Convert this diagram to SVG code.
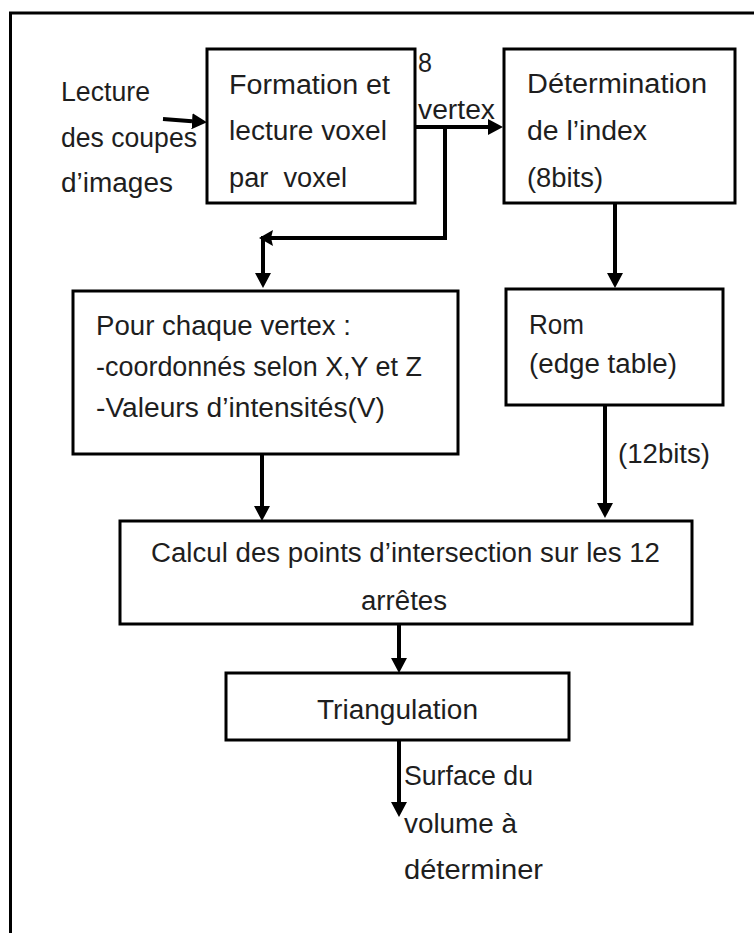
<svg xmlns="http://www.w3.org/2000/svg" width="754" height="933" viewBox="0 0 754 933">
<style>
.box{fill:#fff;stroke:#000;stroke-width:3}
.t{font-family:"Liberation Sans",Arial,sans-serif;font-size:27px;fill:#1e1e1e}
.c{fill:none;stroke:#000;stroke-width:4}
.head{fill:#000}
</style>
<defs>
<marker id="ah" viewBox="0 -8 15 16" markerWidth="15" markerHeight="16" refX="0" refY="0" orient="auto" markerUnits="userSpaceOnUse">
<path d="M0,-8 L15,0 L0,8 z" fill="#000"/>
</marker>
</defs>
<rect x="10.5" y="13" width="800" height="1000" fill="#fff" stroke="#000" stroke-width="3"/>

<g id="input-label">
<text class="t" x="61" y="101" textLength="89" lengthAdjust="spacingAndGlyphs">Lecture</text>
<text class="t" x="61" y="147" textLength="136" lengthAdjust="spacingAndGlyphs">des coupes</text>
<text class="t" x="61" y="192" textLength="112" lengthAdjust="spacingAndGlyphs">d’images</text>
</g>

<g id="formation">
<rect class="box" x="207" y="49" width="208" height="154"/>
<text class="t" x="229" y="94" textLength="161" lengthAdjust="spacingAndGlyphs">Formation et</text>
<text class="t" x="229" y="140" textLength="158" lengthAdjust="spacingAndGlyphs">lecture voxel</text>
<text class="t" x="229" y="187" textLength="118" lengthAdjust="spacingAndGlyphs" style="white-space:pre">par  voxel</text>
</g>

<g id="determination">
<rect class="box" x="504" y="49" width="231" height="154"/>
<text class="t" x="527" y="93" textLength="180" lengthAdjust="spacingAndGlyphs">Détermination</text>
<text class="t" x="527" y="140" textLength="120" lengthAdjust="spacingAndGlyphs">de l’index</text>
<text class="t" x="527" y="187" textLength="76" lengthAdjust="spacingAndGlyphs">(8bits)</text>
</g>

<g id="vertex">
<rect class="box" x="73" y="291" width="385" height="163"/>
<text class="t" x="96" y="335" textLength="255" lengthAdjust="spacingAndGlyphs">Pour chaque vertex :</text>
<text class="t" x="96" y="376" textLength="326" lengthAdjust="spacingAndGlyphs">-coordonnés selon X,Y et Z</text>
<text class="t" x="96" y="417" textLength="289" lengthAdjust="spacingAndGlyphs">-Valeurs d’intensités(V)</text>
</g>

<g id="rom">
<rect class="box" x="506" y="289" width="217" height="116"/>
<text class="t" x="529" y="334" textLength="55" lengthAdjust="spacingAndGlyphs">Rom</text>
<text class="t" x="529" y="373" textLength="148" lengthAdjust="spacingAndGlyphs">(edge table)</text>
</g>

<g id="calcul">
<rect class="box" x="120" y="521" width="572" height="103"/>
<text class="t" x="151" y="562" textLength="509" lengthAdjust="spacingAndGlyphs">Calcul des points d’intersection sur les 12</text>
<text class="t" x="361" y="610" textLength="86" lengthAdjust="spacingAndGlyphs">arrêtes</text>
</g>

<g id="triangulation">
<rect class="box" x="226" y="673" width="343" height="67"/>
<text class="t" x="317" y="719" textLength="161" lengthAdjust="spacingAndGlyphs">Triangulation</text>
</g>

<g id="connectors">
<path class="c" d="M163,119 L192,121.2" marker-end="url(#ah)"/>
<path class="c" d="M415,127 L488,127" marker-end="url(#ah)"/>
<path class="c" d="M445,127 L445,238 L263,238 L263,273" stroke-width="5" marker-end="url(#ah)"/>
<polygon class="head" points="259,238 273,230 271,238 273,246"/>
<path class="c" d="M615,203 L615,273" marker-end="url(#ah)"/>
<path class="c" d="M262,454 L262,506" marker-end="url(#ah)"/>
<path class="c" d="M605,405 L605,503" marker-end="url(#ah)"/>
<path class="c" d="M399,624 L399,658" marker-end="url(#ah)"/>
<path class="c" d="M399,740 L399,802" marker-end="url(#ah)"/>
</g>

<g id="labels">
<text class="t" x="418" y="72" textLength="14" lengthAdjust="spacingAndGlyphs">8</text>
<text class="t" x="418" y="119" textLength="77" lengthAdjust="spacingAndGlyphs">vertex</text>
<text class="t" x="618" y="463" textLength="92" lengthAdjust="spacingAndGlyphs">(12bits)</text>
<text class="t" x="404" y="785" textLength="129" lengthAdjust="spacingAndGlyphs">Surface du</text>
<text class="t" x="404" y="833" textLength="113" lengthAdjust="spacingAndGlyphs">volume à</text>
<text class="t" x="404" y="879" textLength="139" lengthAdjust="spacingAndGlyphs">déterminer</text>
</g>
</svg>
